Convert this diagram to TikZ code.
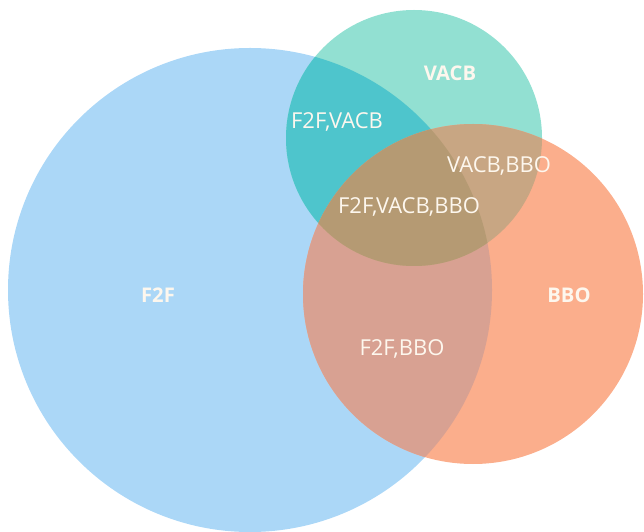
\documentclass[tikz,border=0pt]{standalone}
\usepackage{fontspec}
\setmainfont{Open Sans}
\usepackage{xcolor}
\usepackage{tikz}
\usetikzlibrary{positioning}

\definecolor{fblue}{HTML}{ABD7F7}
\definecolor{vgreen}{HTML}{92E0D2}
\definecolor{borange}{HTML}{FBAE8C}
\definecolor{fvteal}{HTML}{4EC5CC}
\definecolor{vbtan}{HTML}{C8A683}
\definecolor{fbrose}{HTML}{D8A192}
\definecolor{allbrown}{HTML}{B59A73}
\definecolor{labcol}{HTML}{FDF7EE}

\begin{document}
\begin{tikzpicture}[
  setlabel/.style={text=labcol, font=\fontsize{11.5}{13}\selectfont\bfseries},
  interlabel/.style={text=labcol, font=\fontsize{12.5}{14}\selectfont}
]
  \useasboundingbox (0,0) rectangle (12.88,10.62);

  % set centres
  \coordinate (cf2f)  at (5.00,4.82);
  \coordinate (cvacb) at (8.28,7.86);
  \coordinate (cbbo)  at (9.46,4.74);

  % the three sets
  \fill[fblue]   (cf2f)  circle (4.84);
  \fill[vgreen]  (cvacb) circle (2.56);
  \fill[borange] (cbbo)  circle (3.40);

  % pairwise overlaps
  \begin{scope}
    \clip (cf2f) circle (4.84);
    \fill[fvteal] (cvacb) circle (2.56);
    \fill[fbrose] (cbbo)  circle (3.40);
  \end{scope}
  \begin{scope}
    \clip (cvacb) circle (2.56);
    \fill[vbtan] (cbbo) circle (3.40);
  \end{scope}
  % triple overlap
  \begin{scope}
    \clip (cf2f) circle (4.84);
    \clip (cvacb) circle (2.56);
    \fill[allbrown] (cbbo) circle (3.40);
  \end{scope}

  \node[setlabel] (f2f)  at (3.16,4.72)  {F2F};
  \node[setlabel] (vacb) at (9.00,9.16)  {VACB};
  \node[setlabel] (bbo)  at (11.38,4.72) {BBO};

  \node[interlabel] (fv)  at (6.74,8.18) {F2F,VACB};
  \node[interlabel] (vb)  at (9.98,7.30) {VACB,BBO};
  \node[interlabel] (fvb) at (8.18,6.48) {F2F,VACB,BBO};
  \node[interlabel] (fb)  at (8.04,3.64) {F2F,BBO};
\end{tikzpicture}
\end{document}
